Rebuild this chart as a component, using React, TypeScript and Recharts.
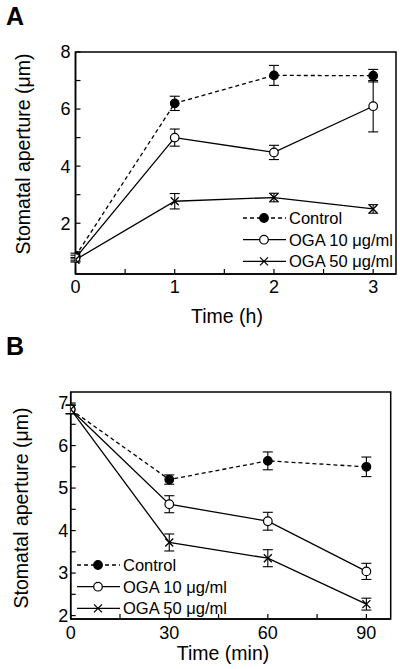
import { LineChart, Line, XAxis, YAxis, ErrorBar, ReferenceArea, Legend, Label } from 'recharts';

const FONT = '"Liberation Sans", Arial, Helvetica, sans-serif';

// Panel A: time course in hours
const hoursA = [0, 1, 2, 3];
const controlA = [0.85, 6.2, 7.18, 7.17];
const controlErrA = [0.1, 0.25, 0.35, 0.22];
const oga10A = [0.78, 5.0, 4.48, 6.1];
const oga10ErrA = [0.1, 0.3, 0.25, 0.9];
const oga50A = [0.72, 2.77, 2.9, 2.5];
const oga50ErrA = [0.08, 0.27, 0.15, 0.15];
const xTicksA = [0, 0.5, 1, 1.5, 2, 2.5, 3];
const yTicksA = [1, 2, 3, 4, 5, 6, 7, 8];

// Panel B: time course in minutes
const minutesB = [0, 30, 60, 90];
const controlB = [6.85, 5.2, 5.64, 5.5];
const controlErrB = [0.1, 0.11, 0.21, 0.23];
const oga10B = [6.85, 4.62, 4.22, 3.04];
const oga10ErrB = [0.1, 0.2, 0.21, 0.19];
const oga50B = [6.85, 3.72, 3.35, 2.27];
const oga50ErrB = [0.1, 0.2, 0.2, 0.14];
const xTicksB = [0, 15, 30, 45, 60, 75, 90];
const yTicksB = [2, 2.5, 3, 3.5, 4, 4.5, 5, 5.5, 6, 6.5, 7];

const seriesNames = ['Control', 'OGA 10 μg/ml', 'OGA 50 μg/ml'];
const seriesKinds = ['filled', 'open', 'cross'];
const yTitle = 'Stomatal aperture (μm)';

const rowsA = hoursA.map((t, i) => ({
  t,
  c: controlA[i], cErr: controlErrA[i],
  o10: oga10A[i], o10Err: oga10ErrA[i],
  o50: oga50A[i], o50Err: oga50ErrA[i],
}));

const rowsB = minutesB.map((t, i) => ({
  t,
  c: controlB[i], cErr: controlErrB[i],
  o10: oga10B[i], o10Err: oga10ErrB[i],
  o50: oga50B[i], o50Err: oga50ErrB[i],
}));

function Marker({ kind, cx, cy }: { kind: string; cx: number; cy: number }) {
  if (kind === 'cross') {
    const s = 4;
    return (
      <path
        d={`M${cx - s},${cy - s}L${cx + s},${cy + s}M${cx - s},${cy + s}L${cx + s},${cy - s}`}
        stroke="#000"
        strokeWidth={1.3}
        fill="none"
      />
    );
  }
  return <circle cx={cx} cy={cy} r={4.3} fill={kind === 'filled' ? '#000' : '#fff'} stroke="#000" strokeWidth={1.2} />;
}

function LegendBox() {
  return (
    <svg width={170} height={68} style={{ display: 'block', overflow: 'visible' }}>
      {seriesNames.map((name, i) => {
        const y = 11 + i * 21.7;
        return (
          <g key={name}>
            <line x1={0} x2={43} y1={y} y2={y} stroke="#000" strokeWidth={1.3} strokeDasharray={i === 0 ? '4 3' : undefined} />
            <Marker kind={seriesKinds[i]} cx={21} cy={y} />
            <text x={46} y={y + 6} fontSize={16.5} fontFamily={FONT} fill="#000">{name}</text>
          </g>
        );
      })}
    </svg>
  );
}

interface PanelProps {
  letter: string;
  letterY: number;
  rows: typeof rowsA;
  top: number;
  height: number;
  margin: { top: number; right: number; left: number; bottom: number };
  yAxisWidth: number;
  xDomain: [number, number];
  yDomain: [number, number];
  xTicks: number[];
  yTicks: number[];
  xMajor: (v: number) => boolean;
  yMajor: (v: number) => boolean;
  xTickMargin: number;
  yTickMargin: number;
  xTitle: string;
  xTitleX: number;
  xTitleY: number;
  yTitleX: number;
  yTitleY: number;
  legendLeft: number;
  legendTop: number;
}

function Panel(p: PanelProps) {
  const keys = ['c', 'o10', 'o50'];
  return (
    <div style={{ position: 'absolute', left: 0, top: p.top, width: 400, height: p.height }}>
      <LineChart width={400} height={p.height} data={p.rows} margin={p.margin}>
        <XAxis
          type="number"
          dataKey="t"
          domain={p.xDomain}
          allowDataOverflow
          ticks={p.xTicks}
          interval={0}
          tickFormatter={(v: number) => (p.xMajor(v) ? String(v) : '')}
          tickSize={-5}
          tickMargin={p.xTickMargin}
          height={40}
          axisLine={{ stroke: '#000', strokeWidth: 1.5 }}
          tickLine={{ stroke: '#000', strokeWidth: 1.2 }}
          tick={{ fill: '#000', fontSize: 18, fontFamily: FONT }}
        >
          <Label
            content={() => (
              <text x={p.xTitleX} y={p.xTitleY} textAnchor="middle" fontSize={19.5} fontFamily={FONT} fill="#000">
                {p.xTitle}
              </text>
            )}
          />
        </XAxis>
        <YAxis
          type="number"
          domain={p.yDomain}
          allowDataOverflow
          ticks={p.yTicks}
          interval={0}
          tickFormatter={(v: number) => (p.yMajor(v) ? String(v) : '')}
          tickSize={-5}
          tickMargin={p.yTickMargin}
          width={p.yAxisWidth}
          axisLine={{ stroke: '#000', strokeWidth: 1.5 }}
          tickLine={{ stroke: '#000', strokeWidth: 1.2 }}
          tick={{ fill: '#000', fontSize: 18, fontFamily: FONT }}
        >
          <Label
            content={() => (
              <text
                x={p.yTitleX}
                y={p.yTitleY}
                textAnchor="middle"
                transform={`rotate(-90 ${p.yTitleX} ${p.yTitleY})`}
                fontSize={19.5}
                fontFamily={FONT}
                fill="#000"
              >
                {yTitle}
              </text>
            )}
          />
        </YAxis>
        <ReferenceArea
          x1={p.xDomain[0]}
          x2={p.xDomain[1]}
          y1={p.yDomain[0]}
          y2={p.yDomain[1]}
          fill="none"
          fillOpacity={0}
          stroke="#000"
          strokeWidth={1.5}
          ifOverflow="visible"
        />
        {keys.map((k, i) => (
          <Line
            key={k}
            dataKey={k}
            name={seriesNames[i]}
            stroke="#000"
            strokeWidth={1.3}
            strokeDasharray={i === 0 ? '4 3' : undefined}
            isAnimationActive={false}
            dot={(d: any) => <Marker key={`${k}-${d.index}`} kind={seriesKinds[i]} cx={d.cx} cy={d.cy} />}
            activeDot={false}
          >
            <ErrorBar dataKey={`${k}Err`} width={5} stroke="#000" strokeWidth={1.1} direction="y" isAnimationActive={false} />
          </Line>
        ))}
        <Legend
          layout="horizontal"
          verticalAlign="middle"
          align="center"
          wrapperStyle={{ left: p.legendLeft, top: p.legendTop, width: 170, height: 68 }}
          content={() => <LegendBox />}
        />
      </LineChart>
      <svg width={40} height={40} style={{ position: 'absolute', left: 0, top: 0 }}>
        <text x={6} y={p.letterY} fontSize={25} fontWeight="bold" fontFamily={FONT} fill="#000">
          {p.letter}
        </text>
      </svg>
    </div>
  );
}

export default function App() {
  return (
    <div style={{ position: 'absolute', left: 0, top: 0, width: 400, height: 669, background: '#fff' }}>
      <Panel
        letter="A"
        letterY={25}
        rows={rowsA}
        top={0}
        height={330}
        margin={{ top: 52, right: 4, left: 0, bottom: 16 }}
        yAxisWidth={75.5}
        xDomain={[0, 3.23]}
        yDomain={[0.22, 8]}
        xTicks={xTicksA}
        yTicks={yTicksA}
        xMajor={(v) => Number.isInteger(v)}
        yMajor={(v) => v % 2 === 0}
        xTickMargin={11}
        yTickMargin={10}
        xTitle="Time (h)"
        xTitleX={227}
        xTitleY={323}
        yTitleX={30}
        yTitleY={154}
        legendLeft={243}
        legendTop={207}
      />
      <Panel
        letter="B"
        letterY={25}
        rows={rowsB}
        top={330}
        height={339}
        margin={{ top: 62, right: 9.3, left: 0, bottom: 10 }}
        yAxisWidth={70.7}
        xDomain={[0, 97.4]}
        yDomain={[1.92, 7.26]}
        xTicks={xTicksB}
        yTicks={yTicksB}
        xMajor={(v) => v % 30 === 0}
        yMajor={(v) => Number.isInteger(v)}
        xTickMargin={12}
        yTickMargin={7.5}
        xTitle="Time (min)"
        xTitleX={223}
        xTitleY={330}
        yTitleX={28}
        yTitleY={178}
        legendLeft={77}
        legendTop={224}
      />
    </div>
  );
}
